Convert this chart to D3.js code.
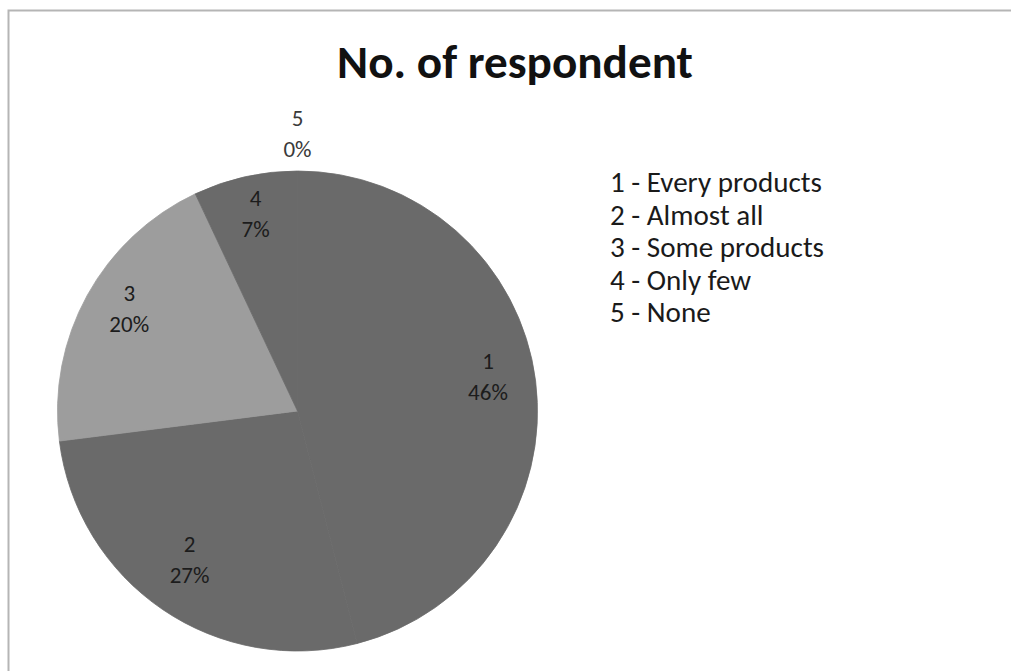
<!DOCTYPE html>
<html>
<head>
<meta charset="utf-8">
<script src="https://cdn.jsdelivr.net/npm/d3@7"></script>
<style>
  html, body { margin: 0; padding: 0; background: #fff; overflow: hidden; }
  svg { display: block; }
</style>
</head>
<body>
<svg id="chart" width="1011" height="671"></svg>
<script>
// Survey answers: share of respondents per answer code
const categories = ["1", "2", "3", "4", "5"];
const legendLabels = ["1 - Every products", "2 - Almost all", "3 - Some products", "4 - Only few", "5 - None"];
const percentages = [46, 27, 20, 7, 0];
const sliceColors = ["#6a6a6a", "#6a6a6a", "#9d9d9d", "#6a6a6a", "#6a6a6a"];
const chartTitle = "No. of respondent";

const svg = d3.select("#chart");
const font = "Carlito, 'Open Sans', 'Noto Sans', sans-serif";

// Frame: top and left edges of the chart area
svg.append("path")
  .attr("d", "M1011,10.5 H8.5 V671")
  .attr("fill", "none")
  .attr("stroke", "#b5b5b5")
  .attr("stroke-width", 2);

// Fit a text node to a target width by adjusting font size
function fitWidth(sel, target) {
  const fs = parseFloat(sel.attr("font-size"));
  const w = sel.node().getComputedTextLength();
  const size = fs * target / w;
  sel.attr("font-size", size);
  return size;
}

// Title
const title = svg.append("text")
  .attr("x", 515).attr("y", 78)
  .attr("text-anchor", "middle")
  .attr("font-family", font)
  .attr("font-weight", "bold")
  .attr("font-size", 40)
  .attr("fill", "#111")
  .text(chartTitle);
fitWidth(title, 356);

// Pie
const cx = 297.5, cy = 411, radius = 240;
const data = categories.map((c, i) => ({ cat: c, value: percentages[i], color: sliceColors[i] }));

const pie = d3.pie().sort(null).value(d => d.value).startAngle(0).endAngle(2 * Math.PI);
const arcs = pie(data);
const arc = d3.arc().innerRadius(0).outerRadius(radius);
const labelArc = d3.arc().innerRadius(radius * 0.8).outerRadius(radius * 0.8);
const outerArc = d3.arc().innerRadius(radius + 37).outerRadius(radius + 37);

const g = svg.append("g").attr("transform", `translate(${cx},${cy})`);

g.selectAll("path.slice")
  .data(arcs.filter(d => d.value > 0))
  .join("path")
  .attr("class", "slice")
  .attr("d", arc)
  .attr("fill", d => d.data.color)
  .attr("stroke", d => d.data.color)
  .attr("stroke-width", 0.8);

// Data labels: category on the first line, percentage on the second
const labels = g.selectAll("g.label")
  .data(arcs)
  .join("g")
  .attr("class", "label")
  .attr("transform", d => {
    const p = d.value > 0 ? labelArc.centroid(d) : outerArc.centroid(d);
    return `translate(${p[0]},${p[1]})`;
  });

const labelColor = d => d.value > 0 ? "#1c1c1c" : "#3a3a3a";

labels.append("text")
  .attr("text-anchor", "middle")
  .attr("y", d => d.value > 0 ? -18 : -8)
  .attr("font-family", font)
  .attr("font-size", 23)
  .attr("fill", labelColor)
  .text(d => d.data.cat);

labels.append("text")
  .attr("text-anchor", "middle")
  .attr("y", d => d.value > 0 ? 13 : 23)
  .attr("font-family", font)
  .attr("font-size", 23)
  .attr("fill", labelColor)
  .text(d => `${d.data.value}%`);

// Legend (text only)
const legend = svg.append("g").attr("transform", "translate(610,192)");
const legendScale = d3.scalePoint().domain(categories).range([0, 130]);
const legendText = legend.selectAll("text")
  .data(legendLabels)
  .join("text")
  .attr("x", 0)
  .attr("y", (d, i) => legendScale(categories[i]))
  .attr("font-family", font)
  .attr("font-size", 22)
  .attr("fill", "#1a1a1a")
  .text(d => d);
const legendSize = fitWidth(legend.select("text"), 212);
legendText.attr("font-size", legendSize);
</script>
</body>
</html>
